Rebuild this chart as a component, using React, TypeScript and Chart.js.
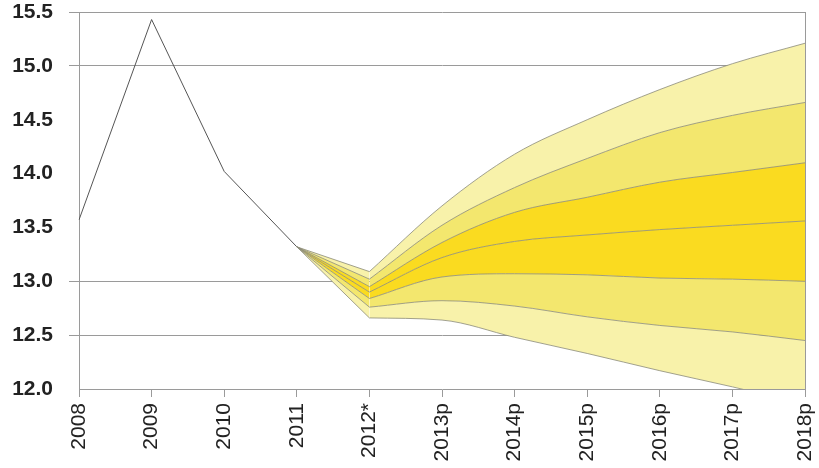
import React, { useEffect, useRef } from 'react';
import { Chart, registerables } from 'chart.js';

Chart.register(...registerables);

const years = ['2008', '2009', '2010', '2011', '2012*', '2013p', '2014p', '2015p', '2016p', '2017p', '2018p'];
const history = [13.57, 15.43, 14.02, 13.32];
// fan boundaries, values from 2011 to 2018p
const fanTop = [13.32, 13.09, 13.70, 14.18, 14.50, 14.78, 15.02, 15.21];
const fanQ2 = [13.32, 13.02, 13.52, 13.87, 14.14, 14.38, 14.54, 14.66];
const fanQ3 = [13.32, 12.95, 13.36, 13.64, 13.78, 13.92, 14.01, 14.10];
const fanMedian = [13.32, 12.90, 13.22, 13.37, 13.43, 13.48, 13.52, 13.56];
const fanQ5 = [13.32, 12.84, 13.04, 13.07, 13.06, 13.03, 13.02, 13.00];
const fanQ6 = [13.32, 12.76, 12.82, 12.77, 12.67, 12.59, 12.53, 12.45];
const fanBottom = [13.32, 12.66, 12.64, 12.48, 12.33, 12.17, 12.02, 11.86];
const yTicksWithGrid = [12.5, 13.0, 15.0, 15.5];

const FAN_START = 3;
const LIGHT = 'rgb(248,242,170)';
const MED = 'rgb(243,231,110)';
const DARK = 'rgb(250,219,32)';
const TRANSPARENT = 'rgba(0,0,0,0)';
const GRID = '#9a9a9a';
const FONT = '"Liberation Sans", Arial, Helvetica, sans-serif';

function place(values: number[], fromIdx: number, toIdx: number): (number | null)[] {
  return years.map((_, i) => {
    const k = i - FAN_START;
    if (i < fromIdx || i > toIdx || k < 0 || k >= values.length) return null;
    return values[k];
  });
}

export default function App() {
  const ref = useRef<HTMLCanvasElement | null>(null);

  useEffect(() => {
    if (!ref.current) return;
    const bands = [fanBottom, fanQ6, fanQ5, fanMedian, fanQ3, fanQ2, fanTop];
    const fills = [TRANSPARENT, LIGHT, MED, DARK, DARK, MED, LIGHT];
    const datasets: any[] = [];
    // linear connectors 2011 -> 2012*
    bands.forEach((b, k) => {
      datasets.push({
        data: place(b, FAN_START, FAN_START + 1),
        borderColor: '#8a8a7a',
        borderWidth: 0.8,
        pointRadius: 0,
        tension: 0,
        fill: k === 0 ? false : '-1',
        backgroundColor: fills[k],
      });
    });
    // smooth fan from 2012* onward
    bands.forEach((b, k) => {
      datasets.push({
        data: place(b, FAN_START + 1, years.length - 1),
        borderColor: '#8a8a7a',
        borderWidth: 0.8,
        pointRadius: 0,
        cubicInterpolationMode: 'monotone',
        fill: k === 0 ? false : '-1',
        backgroundColor: fills[k],
      });
    });
    datasets.push({
      data: years.map((_, i) => (i < history.length ? history[i] : null)),
      borderColor: '#555555',
      borderWidth: 1,
      pointRadius: 0,
      tension: 0,
      fill: false,
    });

    const chart = new Chart(ref.current, {
      type: 'line',
      data: { labels: years, datasets },
      options: {
        animation: false,
        responsive: false,
        layout: { padding: { top: 12, right: 14, left: 0, bottom: 0 } },
        plugins: {
          legend: { display: false },
          tooltip: { enabled: false },
          filler: { drawTime: 'beforeDatasetsDraw' },
        } as any,
        scales: {
          x: {
            offset: false,
            afterFit: (s: any) => {
              s.height = 79;
              s.paddingLeft = 0;
              s.paddingRight = 0;
            },
            grid: {
              color: (ctx: any) => (ctx.index === years.length - 1 ? GRID : TRANSPARENT),
              tickColor: GRID,
              tickLength: 8,
              lineWidth: 1,
            },
            border: { color: GRID },
            ticks: {
              autoSkip: false,
              maxRotation: 90,
              minRotation: 90,
              padding: 6,
              color: '#222',
              font: { family: FONT, size: 21 },
            },
          },
          y: {
            min: 12,
            max: 15.5,
            afterFit: (s: any) => {
              s.width = 79;
              s.paddingTop = 0;
              s.paddingBottom = 0;
            },
            grid: {
              color: (ctx: any) => (yTicksWithGrid.includes(ctx.tick?.value) ? GRID : TRANSPARENT),
              tickLength: 10,
              lineWidth: 1,
            },
            border: { color: GRID },
            ticks: {
              stepSize: 0.5,
              padding: 16,
              color: '#222',
              font: { family: FONT, size: 21, weight: 'bold' },
              callback: (v: any) => Number(v).toFixed(1),
            },
          },
        },
      },
    });
    return () => chart.destroy();
  }, []);

  return (
    <div style={{ position: 'absolute', left: 0, top: 0, width: 819, height: 468, background: '#fff' }}>
      <canvas ref={ref} width={819} height={468} />
    </div>
  );
}
